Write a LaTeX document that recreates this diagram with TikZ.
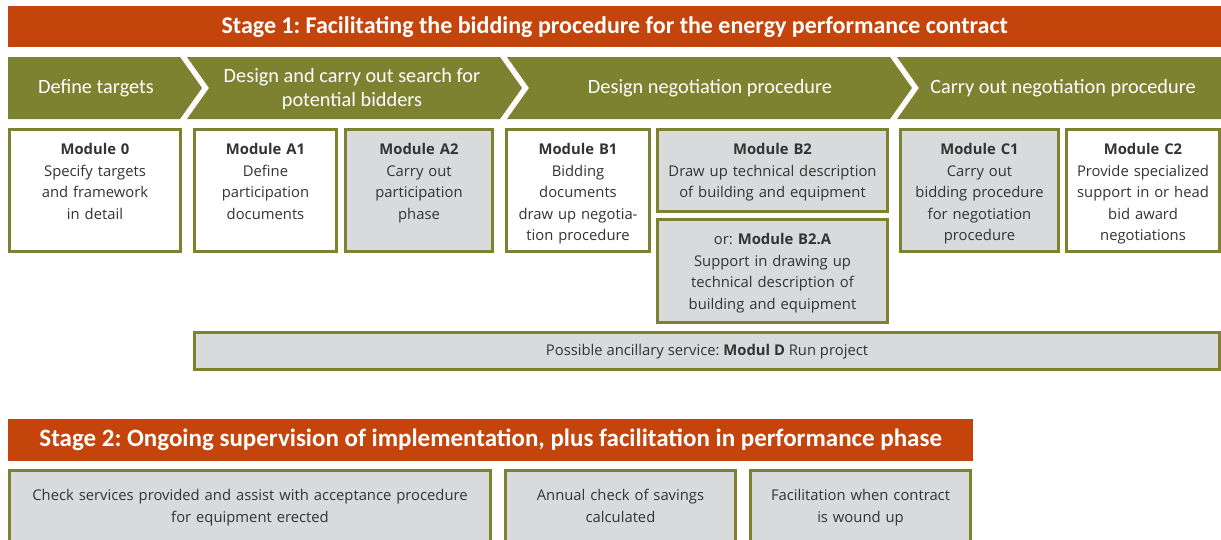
\documentclass[tikz,border=0pt]{standalone}
\usepackage{fontspec}
\setmainfont{Open Sans}
\newfontfamily\headfont{Carlito}
\usetikzlibrary{positioning}
\definecolor{stagered}{RGB}{196,68,12}
\definecolor{olive}{RGB}{124,130,48}
\definecolor{modgray}{RGB}{217,218,219}
\definecolor{modink}{RGB}{51,51,51}
\frenchspacing

\begin{document}
\begin{tikzpicture}
  [x=1pt, y=-1pt,
   stage/.style={fill=stagered,
                 text=white,
                 anchor=north west,
                 inner sep=0pt,
                 font=\headfont\bfseries\fontsize{24}{28}\selectfont},
   phase/.style={text=white,
                 align=center,
                 font=\headfont\fontsize{20.3}{24.5}\selectfont},
   mod/.style={draw=olive,
               line width=3pt,
               fill=white,
               anchor=north west},
   grey/.style={fill=modgray},
   modtxt/.style={anchor=north,
                  align=center,
                  inner sep=0pt,
                  text=modink,
                  font=\fontsize{14.8}{21.6}\selectfont}]
  \clip (0,0) rectangle (1221,539);

  \node[stage, minimum width=1213pt, minimum height=41pt] (st1) at (8,6)
    {Stage 1: Facilitating the bidding procedure for the energy performance contract};

  \fill[olive] (8,57) -- (180,57) -- (202,88) -- (180,119) -- (8,119) -- cycle;
  \fill[olive] (187,57) -- (500,57) -- (522,88) -- (500,119) -- (187,119) -- (209,88) -- cycle;
  \fill[olive] (507,57) -- (890,57) -- (912,88) -- (890,119) -- (507,119) -- (529,88) -- cycle;
  \fill[olive] (897,57) -- (1221,57) -- (1221,119) -- (897,119) -- (919,88) -- cycle;
  \node[phase] (ph0) at (96,88) {Define targets};
  \node[phase] (phA) at (352,89) {Design and carry out search for\\potential bidders};
  \node[phase] (phB) at (710,88) {Design negotiation procedure};
  \node[phase] (phC) at (1063,88) {Carry out negotiation procedure};

  \node[mod, minimum width=171pt, minimum height=122pt] (m0) at (8,128) {};
  \node[mod, minimum width=142pt, minimum height=122pt] (mA1) at (193,128) {};
  \node[mod, grey, minimum width=147pt, minimum height=122pt] (mA2) at (344,128) {};
  \node[mod, minimum width=143pt, minimum height=122pt] (mB1) at (505,128) {};
  \node[mod, grey, minimum width=230pt, minimum height=82pt] (mB2) at (656,128) {};
  \node[mod, grey, minimum width=230pt, minimum height=103pt] (mB2a) at (656,218) {};
  \node[mod, grey, minimum width=158pt, minimum height=122pt] (mC1) at (899,128) {};
  \node[mod, minimum width=153pt, minimum height=122pt] (mC2) at (1065,128) {};

  \node[modtxt, text width=168pt, below=15pt of m0.north] (t0)
    {\textbf{Module 0}\\Specify targets\\and framework\\in detail};
  \node[modtxt, text width=140pt, below=15pt of mA1.north] (tA1)
    {\textbf{Module A1}\\Define\\participation\\documents};
  \node[modtxt, text width=145pt, below=15pt of mA2.north] (tA2)
    {\textbf{Module A2}\\Carry out\\participation\\phase};
  \node[modtxt, text width=142pt, below=15pt of mB1.north] (tB1)
    {\textbf{Module B1}\\Bidding\\documents\\draw up negotia-\\tion procedure};
  \node[modtxt, text width=228pt, below=15pt of mB2.north] (tB2)
    {\textbf{Module B2}\\Draw up technical description\\of building and equipment};
  \node[modtxt, text width=228pt, below=15pt of mB2a.north] (tB2a)
    {or: \textbf{Module B2.A}\\Support in drawing up\\technical description of\\building and equipment};
  \node[modtxt, text width=156pt, below=15pt of mC1.north] (tC1)
    {\textbf{Module C1}\\Carry out\\bidding procedure\\for negotiation\\procedure};
  \node[modtxt, text width=152pt, below=15pt of mC2.north] (tC2)
    {\textbf{Module C2}\\Provide specialized\\support in or head\\bid award\\negotiations};

  \node[mod, grey, minimum width=1025pt, minimum height=37pt] (mD) at (193,331) {};
  \node[modtxt, anchor=center] (tD) at ([yshift=-1pt]mD.center)
    {Possible ancillary service: \textbf{Modul D} Run project};

  \node[stage, minimum width=965pt, minimum height=42pt,
        font=\headfont\bfseries\fontsize{25}{29}\selectfont] (st2) at (8,419)
    {Stage 2: Ongoing supervision of implementation, plus facilitation in performance phase};

  \node[mod, grey, minimum width=481pt, minimum height=100pt] (s1) at (8,469) {};
  \node[mod, grey, minimum width=230pt, minimum height=100pt] (s2) at (504,469) {};
  \node[mod, grey, minimum width=220pt, minimum height=100pt] (s3) at (749,469) {};
  \node[modtxt, text width=475pt, below=20pt of s1.north] (u1)
    {Check services provided and assist with acceptance procedure\\for equipment erected};
  \node[modtxt, text width=225pt, below=20pt of s2.north] (u2)
    {Annual check of savings\\calculated};
  \node[modtxt, text width=215pt, below=20pt of s3.north] (u3)
    {Facilitation when contract\\is wound up};
\end{tikzpicture}
\end{document}
